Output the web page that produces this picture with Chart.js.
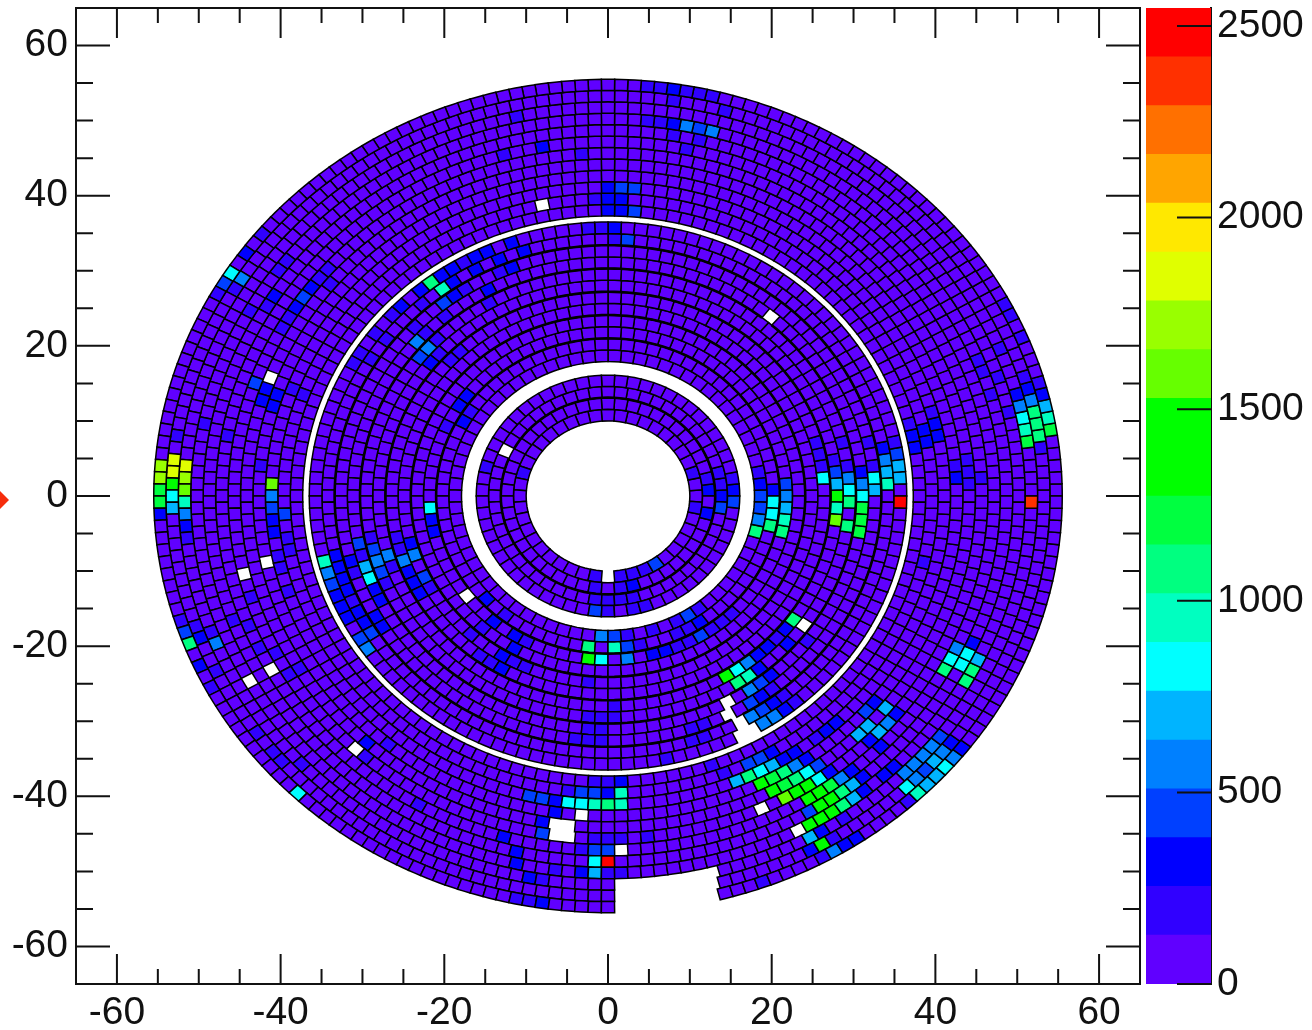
<!DOCTYPE html>
<html>
<head>
<meta charset="utf-8">
<script src="https://cdn.jsdelivr.net/npm/chart.js@4/dist/chart.umd.min.js"></script>
<style>
html, body { margin: 0; padding: 0; background: #fff; }
#wrap { position: relative; width: 1312px; height: 1030px; overflow: hidden; }
#hitMap { position: absolute; left: 0; top: 0; }
#colorBar { position: absolute; left: 1140px; top: 0; }
#arrow { position: absolute; left: 0; top: 491px; width: 0; height: 0; border-top: 9px solid transparent; border-bottom: 9px solid transparent; border-left: 9px solid #f62d0c; }
</style>
</head>
<body>
<div id="wrap">
<canvas id="hitMap" width="1142" height="1030"></canvas>
<canvas id="colorBar" width="172" height="1030"></canvas>
<div id="arrow"></div>
</div>
<script>
// ring edges (radius) and how many cells sit in each ring
const ringEdges = [
    [10, 11.55], [11.55, 13.1], [13.1, 14.6], [14.6, 16.1],
    [17.9, 19.45], [19.45, 21], [21, 22.55], [22.55, 24.1], [24.1, 25.65], [25.65, 27.2],
    [27.2, 28.75], [28.75, 30.3], [30.3, 31.85], [31.85, 33.4], [33.4, 34.95], [34.95, 36.5],
    [37.3, 38.82], [38.82, 40.34], [40.34, 41.86], [41.86, 43.38], [43.38, 44.9], [44.9, 46.42],
    [46.42, 47.94], [47.94, 49.46], [49.46, 50.98], [50.98, 52.5], [52.5, 54.02], [54.02, 55.5]
];
const ringCells = [44, 50, 56, 62, 74, 80, 86, 92, 98, 104, 110, 116, 122, 128, 134, 140,
    148, 154, 160, 166, 172, 178, 184, 190, 196, 202, 208, 214];
// ring boundaries that look heavier in the picture
const heavyArcs = [13.1, 21, 24.1, 27.2, 30.3, 33.4];
const baseValue = 64;
const zMax = 2547;
const zTicks = [0, 500, 1000, 1500, 2000, 2500];
const bandColors = ['#6000ff', '#3000ff', '#0000ff', '#0040ff', '#0080ff', '#00b4ff', '#00ffff', '#00ffc0', '#00ff80', '#00ff40',
    '#00ff00', '#00ff00', '#66ff00', '#99ff00', '#e0ff00', '#ffe800', '#ffa500', '#ff7000', '#ff3000', '#ff0000'];
const axisTicks = [-60, -40, -20, 0, 20, 40, 60];

// cells that are dead (white)
const deadCells = [
    [-8.3, 38.9], [19.7, 24.3], [-41.8, 15.3], [-12.1, 6.5], [-44.7, -10.1], [-42.1, -8.4], [-44.1, -24], [-41.1, -23.3],
    [-31.5, -33.3], [-17.8, -12.8], [23.8, -18], [19.2, -41.5], [23.8, -44.1], [1, -47.2], [0, -10.4],
    [14, -27.9], [15.3, -29.1], [15.9, -30.7], [16.4, -31.7], [18, -30.9],
    [-4, -42.5], [-6.8, -43.6], [-4.6, -43.9], [-6.5, -45.2], [-4.4, -45.5]
];
// missing piece of the outer rings at the bottom: radius and angle limits
const notchRadius = [51, 56];
const notchAngle = [-89, -75.5];

// x, y, counts
const hotCells = [
    // far left
    [-54.8,3.9,1719],[-54.9,2.3,1719],[-54.9,0.6,1210],[-54.9,-1.1,1210],[-54.9,-2.6,318],[-53.1,4.7,1846],[-53.3,3.1,1846],[-53.3,1.5,1337],
    [-53.3,-0.2,827],[-53.3,-1.8,700],[-51.6,4.7,1846],[-51.8,3.1,1719],[-51.8,1.5,1592],[-51.8,-0.2,955],[-51.8,-1.8,573],[-51.8,-3.5,318],[-51.6,-5.1,190],
    [-41.2,1.1,1592],[-41.2,-0.6,573],[-41.2,-2.2,445],[-39.7,-2.4,445],[-41,-4,318],[-40.8,-5.6,318],[-39.3,-6,190],[-40.6,-7.3,318],[-39,-7.4,190],
    [-40.4,-8.8,190],[-42.6,3.6,190],[-52.8,7.8,190],[-49.3,10.3,190],[-46.7,8.1,190],[-39.8,-10.2,190],[-39.5,-12,190],
    [-51,-20.2,1082],[-51.6,-18.6,445],[-50,-19,318],[-48,-19.5,573],[-48.7,-18,190],[-50.3,-17.5,190],[-50.2,-22,190],[-49.6,-23.3,318],[-48.7,-24.8,190],
    [-47.8,-23.3,190],[-52,-17.2,190],[-45.7,-17.3,190],[-44,-17.5,190],[-43.8,-13.5,190],[-40.8,-21,190],[-38,-22.7,190],[-38.7,-24,190],[-42.6,-20.4,190],
    // far right
    [50,14.3,318],[51.6,14,318],[53.1,13.5,318],[51.2,15.6,190],[52.8,15.2,190],[50.3,12.7,573],[51.9,12.5,573],[53.6,12,700],[49.1,11.5,190],[50.7,10.9,827],
    [52.3,10.7,1082],[53.9,10.3,955],[51,9.5,955],[52.5,9.2,1082],[54.1,8.7,1210],[51.3,7.9,1210],[52.8,7.6,1082],[53,6,190],
    [38.6,9.6,318],[40.3,9.2,318],[37.3,8.3,318],[39,7.6,318],[40.6,7.5,318],[37.7,6.7,318],[37,9.9,190],[40,10.7,190],
    [42.6,3.6,190],[44.2,4.4,190],[44.3,2.7,190],[42.9,1.7,318],[44.4,1.2,190],[45.8,2,190],[47.1,12.8,190],[46.1,16,190],[45.5,17.6,190],[47.4,16.3,190],[38.7,-9.3,190],
    [48.6,25.6,190],[49.8,23.6,190],[51,20.9,190],[48,19.6,190],
    [51.9,-0.4,2356],[35.9,-1.3,2483],
    // right of the inner gap
    [26.6,2.4,827],[28.3,1.2,700],[29.7,2,573],[31.2,2.1,573],[32.8,3,827],[34.3,2.8,700],[35.8,3.7,700],[34.2,4.4,573],[35.5,5.4,445],[33.9,5.9,318],
    [32.3,6.5,190],[35.1,6.9,190],[32.5,4.7,190],[31,3.9,318],[29.6,3.9,190],[28.2,2.7,445],[28,4.5,190],[26.5,4.1,190],[26,5.9,190],[25.6,7.6,190],[29,7.2,190],
    [32.8,1.5,700],[34.3,1.2,955],[35.9,2,700],[30,0.3,827],[31.3,0.5,827],[28.4,-0.6,1337],[29.8,-1.6,1082],[31.2,-1,1210],[28.2,-2.4,955],[31.2,-2.5,1210],
    [29.7,-3.3,1082],[28,-4,1592],[31,-4.1,1210],
    [20.2,-0.7,827],[20.2,-2.4,827],[19.8,-4.4,1082],[18,-4.8,1082],[18.4,-3.1,573],[18.6,-1.5,445],[18.7,0.3,445],[18.6,2,318],[20.2,1.3,318],[18.4,3.9,190],
    [21.9,2,445],[21.9,0,573],[21.9,-1.5,700],[21.9,-3,955],[21.4,-4.9,1082],
    // inner annulus
    [12.1,0.3,318],[12.1,-1.6,318],[13.6,-1.6,445],[15.2,0.7,318],[15.2,-1.1,445],[13.6,0,318],[13.5,1.6,190],[13.5,2.9,190],[15.2,2.5,190],[11.9,1.9,190],
    [10.5,-0.8,190],[10.4,2.5,190],[-10.4,2.5,190],[-14.8,3.1,190],[6,-8.7,445],[4.5,-9.3,190],[3.1,-10,190],[1.7,-10.4,190],[-1.5,-10.4,190],[-1,-12,190],
    [0.9,-12,190],[2.8,-11.6,318],[3.7,-13,190],[2.1,-13.3,190],[0.5,-13.5,190],[-1.1,-13.5,190],[-2.1,-14.8,445],[-0.4,-15,190],[4.9,-14.1,190],[3.1,-14.6,190],
    // below the inner gap
    [-0.7,-18.6,573],[1.1,-18.6,445],[3,-18.3,190],[4.8,-18.1,190],[11.6,-18.4,445],[9.7,-15.7,445],[11,-16.8,318],[8,-16.7,190],[9.4,-17.7,190],[12.9,-17.5,190],
    [14.6,-16.7,190],[15.5,-15.5,190],[11,-14.8,190],[-1.7,-20.1,1082],[0.2,-20.1,955],[2.2,-20,445],[4,-19.7,190],[-1.8,-21.9,1337],[0,-21.9,827],[1.8,-21.7,573],
    [5.1,-21.2,318],[7,-20.8,318],[7.8,-18.5,190],[9.7,-18,190],[10,-19.5,190],[8.8,-19.3,190],
    [14.3,-24.1,1337],[15.9,-23.2,827],[17.3,-22.3,573],[16,-25.1,1082],[17.5,-24,955],[15.3,-27.3,827],[16.8,-26.3,573],[18.2,-25.3,445],[16.9,-28,445],[18.4,-27.1,318],
    [19.6,-26.1,318],[17.5,-29.5,573],[18.9,-28.7,445],[20.1,-27.9,318],[21.3,-26.8,445],[19,-30.5,573],[20.3,-29.3,573],[21.7,-28.4,318],[23.1,-27.5,190],[19.8,-24.8,318],
    [18.4,-22.8,318],[18.6,-21.3,318],[19.8,-20.1,318],[20.8,-18.8,190],[22.7,-19.3,318],[22,-17.6,318],[23.1,-16.3,1082],[21,-26.1,190],[24.1,-18.8,190],[20.6,-25.3,190],
    [-1.8,-24.8,190],[-2.6,-29.7,190],[-0.7,-29.7,190],[1.1,-29.6,190],[-3.2,-31.1,190],[-1.3,-31.1,190],[-3.8,-32.7,190],[-2,-32.7,190],[-0.1,-32.8,190],[0.1,-28,190],
    [10.9,-30.8,190],[12.5,-30.4,190],[11.5,-32.1,190],[9.7,-32,190],
    // top
    [4.9,54.7,190],[6.6,54.5,190],[8.2,54.3,318],[9.9,54,190],[11.5,53.7,190],[13.2,53.4,190],[8.8,52.7,190],[13.6,51.7,190],[-10.5,50.9,190],[4.9,50.3,190],[6.6,50,190],
    [8.2,49.9,318],[9.8,49.5,573],[11.3,49.2,445],[12.9,48.8,573],[8.2,48.3,190],[11.6,47.6,190],[10.4,46.4,190],[-7.5,46.8,318],[-12.2,45.9,190],[-2.7,45.9,190],
    [0.1,41.3,318],[1.7,41.3,445],[3.3,41.3,445],[-1.6,39.9,190],[0.1,39.9,318],[1.7,39.9,318],[-0.7,38.4,318],[1,38.4,318],[2.6,38.1,445],
    [-2.3,35.9,190],[-0.7,35.9,190],[1.1,36,318],[1.7,34.5,445],[0.2,34.5,190],
    // upper left
    [-45.9,30.1,827],[-46.6,28.7,445],[-44.9,28.7,573],[-47.6,27.3,318],[-44,32.8,318],[-45.9,27.2,190],[-42,35.2,190],[-41.1,26.4,318],[-43.6,25.2,190],[-42.2,24.9,190],
    [-37.1,26.9,445],[-38.1,25.5,318],[-36.1,28.3,318],[-34.9,29.7,190],[-33.8,30.9,190],[-34.4,28,190],[-38.9,24,190],[-39.9,22.7,190],[-39.2,31.6,190],[-40.2,30.5,190],
    [-43.5,14.9,445],[-42.2,13.6,318],[-40.5,13.5,318],[-42.6,12,318],[-41.1,11.9,318],[-38.9,13.9,190],[-37.6,12.8,190],
    [-22.3,28.3,1082],[-20.7,27.5,955],[-20.2,25.9,445],[-19.3,28.5,318],[-20.8,29.2,318],[-19.5,30.1,318],[-23.4,27.2,318],[-24.9,26,318],[-23.3,25.5,190],[-26.1,24.9,190],
    [-27.1,23.9,190],[-24,22.5,190],[-22.4,22,190],[-23.4,20.9,573],[-22.6,19.5,573],[-23.8,18.1,445],[-22,17.9,318],[-21.4,20.9,190],[-20.9,19.2,190],[-19.3,18.5,190],
    [-18.1,20,190],[-29.1,21.2,190],[-30,19.6,190],[-31,18.1,190],[-27.5,20.7,190],[-29.4,18,190],[-17.9,12.9,318],[-18.7,11.6,318],[-17.5,10,318],[-19.7,9.9,190],[-16.5,11.9,190],
    [-16.6,31.6,318],[-17.7,31.2,190],[-15.1,32.5,318],[-13.7,31.6,318],[-12.2,33.9,318],[-10.8,32.7,318],[-11.5,30.9,318],[-13,30,190],[-14.8,27.7,318],[-16.5,30,318],
    [-14.2,26.3,190],[-19,26.9,318],[-17.3,28.3,190],[-15.3,25.9,190],[-20.6,23.6,190],
    // lower left of the middle zone
    [-34.6,-9.2,955],[-34.2,-10.8,573],[-33.7,-12.4,445],[-32.9,-14,318],[-32.4,-15.5,318],[-31.6,-16.9,318],[-30.6,-18.4,445],[-29.9,-19.9,573],[-33.4,-8,318],[-32.9,-9.6,318],
    [-32.4,-11,318],[-32,-12.6,318],[-31.3,-14.1,190],[-30.7,-15.5,318],[-29.9,-16.9,318],[-29,-18.3,445],[-31.6,-8.7,318],[-31.2,-10.1,190],[-30.7,-5.7,445],[-30.4,-7.3,190],
    [-30,-8.8,700],[-29.5,-10.5,827],[-28.9,-12.2,318],[-28.2,-13.4,318],[-28.3,-16.1,318],[-27.3,-17.8,318],[-28.9,-6.8,445],[-28.5,-8.6,573],[-27.9,-10.2,445],[-27.2,-7.3,573],
    [-26.9,-8.8,190],[-27,-11.7,190],[-25.3,-8.2,573],[-23.6,-8.6,573],[-24,-7,318],[-24.6,-10,318],[-22.8,-10.1,445],[-23.9,-11.5,318],[-22.2,-11.7,190],[-23.3,-13.1,318],
    [-21.4,-4.9,318],[-21.5,-3.5,318],[-25.8,-6.4,190],[-26.1,-4.8,190],[-29.4,-5.1,190],[-15.3,-13.3,318],[-14.2,-16.7,318],[-11.4,-18.7,318],[-11.3,-20.5,318],[-13,-21.3,318],
    [-12.9,-23.1,318],[-16,-21.1,190],[-14.4,-22.1,190],[-9.8,-19.5,190],[-12.4,-15.9,190],[-15.9,-17.3,190],[-17.1,-18.4,190],[-9.9,-23.1,190],[-11.6,-22.1,190],[-22,-1.7,827],
    // big patch lower right
    [15.9,-38,700],[17.4,-37.2,1082],[19,-36.5,827],[20.4,-35.7,700],[21.9,-36.7,1082],[23.3,-35.7,573],[25,-36.5,827],[26.4,-37.2,827],[26.3,-35.6,445],[24.9,-34.7,318],
    [16.5,-35.9,445],[18.1,-35.3,445],[19.6,-34.4,318],[21.7,-34.8,318],[23.3,-34,190],[14.8,-36.5,190],[13.3,-36.5,190],[18.9,-38.3,1337],[20.4,-37.3,1210],[22,-38.3,1210],
    [23.5,-37.3,1082],[25.1,-38.3,1337],[26.8,-38.8,1210],[28.3,-37.9,573],[20.7,-39.1,1337],[23.8,-39.2,1337],[22.2,-40,1592],[25.6,-39.7,1337],[28.5,-39.5,1082],[30,-38.4,700],
    [24.1,-40.7,1337],[27.1,-40.4,1337],[29.3,-40.8,1082],[30.6,-39.7,700],[25.6,-41.3,1337],[28,-41.7,1337],[24.4,-42.1,445],[26.6,-42.5,1337],[25.2,-43.3,1337],[25.3,-45.1,700],
    [26.1,-46.3,1337],[27.5,-47.2,573],[26.8,-44.3,318],[28.4,-43.7,190],[27.7,-45.7,190],[29,-46.5,318],[30.4,-45.6,318],[26.2,-48,190],[24.6,-47.2,318],[27.8,-36.4,318],
    [29.4,-36.8,318],[31.5,-39.1,318],[33.3,-37.7,318],[31.7,-37.5,318],
    [31.2,-29.2,445],[32.3,-28,318],[33.5,-28.8,700],[32.3,-30.1,700],[34.2,-30.5,573],[31.2,-31.5,700],[32.9,-32,700],[31.7,-33.1,318],[33.5,-33.5,318],[35.1,-29.3,318],
    [28.4,-29.7,318],[27.2,-30.8,318],[24.7,-32,190],[23.1,-33.7,318],
    [40.3,-32.4,445],[39.2,-33.7,573],[40.9,-34.1,573],[38.2,-34.7,573],[39.8,-35.3,700],[41.5,-35.9,827],[37,-36,573],[38.8,-36.5,445],[40.3,-37.1,700],[35.8,-37.2,573],
    [37.6,-37.6,573],[39.2,-38.3,700],[36.4,-38.8,827],[38.1,-39.5,955],[42.5,-34.7,573],[43.5,-33.3,318],[41.9,-32.8,318],[34.5,-36.7,318],[36.7,-40.4,190],
    [42.7,-20.3,573],[44.6,-20.1,318],[45.5,-21.3,700],[41.9,-21.9,827],[43.7,-21.6,827],[41.1,-23.2,1082],[42.9,-23.2,827],[44.7,-22.8,1082],[44.1,-24.3,1082],
    // lower centre
    [-5,-40.8,827],[-3.4,-40.9,827],[-1.8,-41.1,955],[-0.1,-41.1,1082],[1.6,-40.9,955],[1.7,-39.6,955],[-0.1,-39.6,318],[-1.8,-39.6,445],[-3.4,-39.5,445],[-5.1,-39.2,190],
    [-6.7,-40.5,318],[-8.2,-40.3,445],[-9.7,-40,445],[-5.9,-42.1,318],[-8,-43.3,318],[-7.3,-45.1,445],[-12,-45.6,318],[-11.6,-47.3,318],[-10.4,-49.1,318],[-9.9,-50.7,318],
    [-8.3,-51.1,318],[-7.5,-54.1,318],[-8.9,-54,190],[-10.5,-53.7,190],[-4,-50,318],[-2.4,-50,318],[-0.9,-50.3,700],[-1.6,-48.7,827],[0.1,-48.7,2483],[-2.3,-47.1,445],
    [-0.7,-47.1,445],[-3.9,-47.1,190],[-2.2,-45.6,190],[-0.7,-45.6,190],[1,-45.6,190],[4.4,-45.5,190],[0.7,-50.1,190],[2.3,-50.1,190],[-6.2,-49.5,190],[-7.5,-51.3,190],
    [2.4,-38,318],[-0.7,-38,190],[-2.4,-38,190],[6.6,-35.2,190],[18.4,-51.3,190],
    // lower left of the outer zone
    [-38.1,-39.2,827],[-43.2,-32.4,190],[-41.4,-33.7,190],[-39.8,-34.4,190],[-37.7,-36.4,190],[-28.5,-33,318],[-27.3,-33,190],[-29.1,-34.7,190],[-30.4,-35,190],[-22.4,-41,190],
    [-7.7,46.9,318],[-48.4,27.6,190]
];

// build one entry per cell from the rings
const cells = [];
ringEdges.forEach(function(edge, ring) {
    const count = ringCells[ring];
    const step = 360 / count;
    const start = ring % 2 === 0 ? 0 : step / 2;
    for (let i = 0; i < count; i++) {
        const a = start + i * step;
        const mid = (edge[0] + edge[1]) / 2;
        const rad = a * Math.PI / 180;
        cells.push({x: mid * Math.cos(rad), y: mid * Math.sin(rad), v: baseValue, a0: a - step / 2, a1: a + step / 2, r0: edge[0], r1: edge[1]});
    }
});

function nearestCell(x, y) {
    let best = null, bestDist = Infinity;
    for (const c of cells) {
        const d = (c.x - x) * (c.x - x) + (c.y - y) * (c.y - y);
        if (d < bestDist) { bestDist = d; best = c; }
    }
    return best;
}
hotCells.forEach(function(h) { nearestCell(h[0], h[1]).v = h[2]; });
deadCells.forEach(function(d) { nearestCell(d[0], d[1]).v = null; });
cells.forEach(function(c) {
    let ang = (c.a0 + c.a1) / 2;
    if (ang > 180) ang -= 360;
    if (c.r1 > notchRadius[0] && ang > notchAngle[0] && ang < notchAngle[1]) c.v = null;
});

function bandColor(v) {
    const i = Math.min(bandColors.length - 1, Math.floor(v / zMax * bandColors.length));
    return bandColors[i];
}

// draws every cell as a small ring sector through the chart scales
const cellPlugin = {
    id: 'cellPlugin',
    beforeDatasetsDraw(chart) {
        const ctx = chart.ctx, xs = chart.scales.x, ys = chart.scales.y;
        const px = (r, a) => xs.getPixelForValue(r * Math.cos(a * Math.PI / 180));
        const py = (r, a) => ys.getPixelForValue(r * Math.sin(a * Math.PI / 180));
        ctx.save();
        ctx.strokeStyle = '#000';
        ctx.lineWidth = 1.5;
        ctx.lineJoin = 'miter';
        for (const c of cells) {
            if (c.v === null) continue;
            const am = (c.a0 + c.a1) / 2;
            ctx.beginPath();
            ctx.moveTo(px(c.r0, c.a0), py(c.r0, c.a0));
            ctx.lineTo(px(c.r0, am), py(c.r0, am));
            ctx.lineTo(px(c.r0, c.a1), py(c.r0, c.a1));
            ctx.lineTo(px(c.r1, c.a1), py(c.r1, c.a1));
            ctx.lineTo(px(c.r1, am), py(c.r1, am));
            ctx.lineTo(px(c.r1, c.a0), py(c.r1, c.a0));
            ctx.closePath();
            ctx.fillStyle = bandColor(c.v);
            ctx.fill();
            ctx.stroke();
        }
        // heavier lines between some of the rings
        ctx.lineWidth = 2.6;
        for (const c of cells) {
            if (c.v === null || !heavyArcs.includes(c.r0)) continue;
            const am = (c.a0 + c.a1) / 2;
            ctx.beginPath();
            ctx.moveTo(px(c.r0, c.a0), py(c.r0, c.a0));
            ctx.lineTo(px(c.r0, am), py(c.r0, am));
            ctx.lineTo(px(c.r0, c.a1), py(c.r0, c.a1));
            ctx.stroke();
        }
        ctx.restore();
    },
    // frame and inward ticks on all four sides
    afterDraw(chart) {
        const ctx = chart.ctx, a = chart.chartArea, xs = chart.scales.x, ys = chart.scales.y;
        ctx.save();
        ctx.strokeStyle = '#111';
        ctx.lineWidth = 2;
        ctx.strokeRect(a.left, a.top, a.right - a.left, a.bottom - a.top);
        ctx.beginPath();
        for (let v = -60; v <= 60; v += 5) {
            const big = v % 20 === 0;
            const lx = big ? 34 : 17, ly = big ? 30 : 15;
            const y = ys.getPixelForValue(v), x = xs.getPixelForValue(v);
            ctx.moveTo(a.left, y); ctx.lineTo(a.left + lx, y);
            ctx.moveTo(a.right, y); ctx.lineTo(a.right - lx, y);
            ctx.moveTo(x, a.bottom); ctx.lineTo(x, a.bottom - ly);
            ctx.moveTo(x, a.top); ctx.lineTo(x, a.top + ly);
        }
        ctx.stroke();
        ctx.restore();
    }
};

const labelFont = {family: '"Liberation Sans", Arial, sans-serif', size: 39};

function axisOptions(pos, pad) {
    return {
        type: 'linear',
        position: pos,
        min: -65,
        max: 65,
        grid: {display: false, drawTicks: false},
        border: {display: false},
        ticks: {
            stepSize: 5,
            autoSkip: false,
            maxRotation: 0,
            includeBounds: false,
            padding: pad,
            color: '#111',
            font: labelFont,
            callback: v => axisTicks.includes(v) ? String(v) : ''
        }
    };
}

// fixed axis sizes so the frame lands where it should
const xAxis = axisOptions('bottom', 6);
xAxis.afterFit = s => { s.height = 46; s.paddingLeft = 0; s.paddingRight = 0; };
const yAxis = axisOptions('left', 8);
yAxis.afterFit = s => { s.width = 76; s.paddingTop = 0; s.paddingBottom = 0; };

new Chart(document.getElementById('hitMap').getContext('2d'), {
    type: 'scatter',
    data: {datasets: [{data: cells.filter(c => c.v !== null), pointRadius: 0, parsing: false}]},
    options: {
        responsive: false,
        animation: false,
        events: [],
        layout: {padding: {top: 8, right: 2, left: 0, bottom: 0}},
        plugins: {legend: {display: false}, tooltip: {enabled: false}},
        scales: {x: xAxis, y: yAxis}
    },
    plugins: [cellPlugin]
});

// colour bar: one stacked bar, one segment per palette band
const barTicks = {
    id: 'barTicks',
    afterDraw(chart) {
        const ctx = chart.ctx, a = chart.chartArea, ys = chart.scales.y;
        ctx.save();
        ctx.strokeStyle = '#111';
        ctx.lineWidth = 2;
        ctx.beginPath();
        zTicks.forEach(function(v) {
            const y = ys.getPixelForValue(v);
            ctx.moveTo(a.right, y);
            ctx.lineTo(a.right - 34, y);
        });
        ctx.stroke();
        ctx.restore();
    }
};

new Chart(document.getElementById('colorBar').getContext('2d'), {
    type: 'bar',
    data: {
        labels: ['z'],
        datasets: bandColors.map(c => ({data: [zMax / bandColors.length], backgroundColor: c, barPercentage: 1, categoryPercentage: 1, borderWidth: 0}))
    },
    options: {
        responsive: false,
        animation: false,
        events: [],
        layout: {padding: {top: 8, left: 6, right: 0, bottom: 46}},
        plugins: {legend: {display: false}, tooltip: {enabled: false}},
        scales: {
            x: {display: false, stacked: true},
            y: {
                position: 'right',
                stacked: true,
                min: 0,
                max: zMax,
                afterBuildTicks: s => { s.ticks = zTicks.map(v => ({value: v})); },
                afterFit: s => { s.width = 101; s.paddingTop = 0; s.paddingBottom = 0; },
                grid: {display: false, drawTicks: false},
                border: {display: true, color: '#111', width: 2},
                ticks: {padding: 6, color: '#111', font: labelFont, callback: v => String(v)}
            }
        }
    },
    plugins: [barTicks]
});
</script>
</body>
</html>
